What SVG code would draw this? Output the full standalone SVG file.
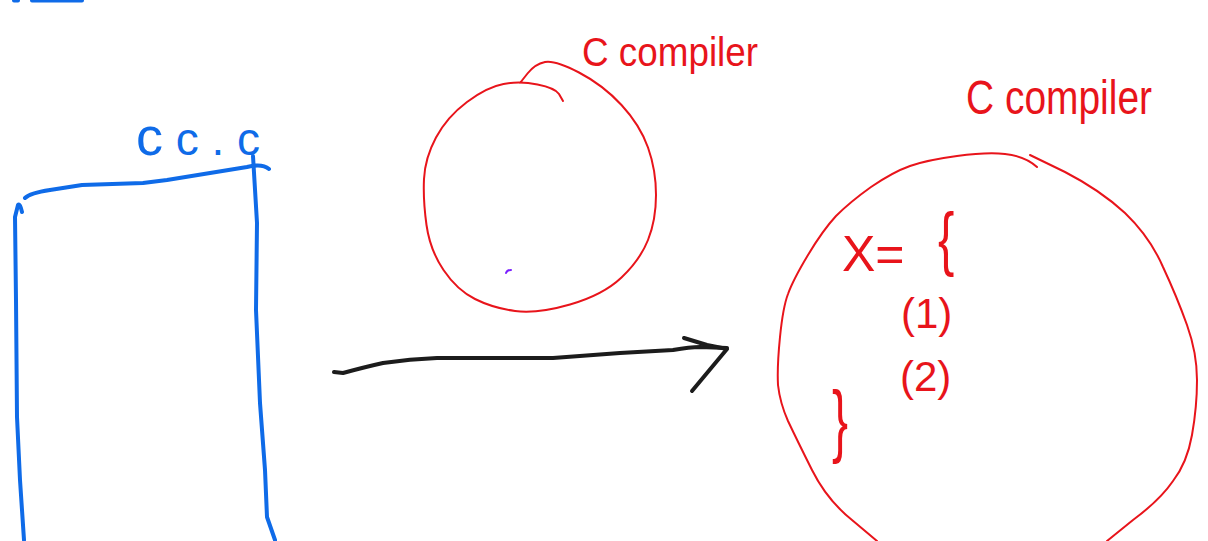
<svg xmlns="http://www.w3.org/2000/svg" width="1208" height="541" viewBox="0 0 1208 541">
<style>
.blue{fill:none;stroke:#0f6be8;stroke-width:4;stroke-linecap:round;stroke-linejoin:round}
.red{fill:none;stroke:#e8141b;stroke-width:2;stroke-linecap:round;stroke-linejoin:round}
.ink{fill:none;stroke:#1c1c1c;stroke-width:4;stroke-linecap:round;stroke-linejoin:round}
.rt{fill:#e8141b;font-family:"Liberation Sans",Arial,sans-serif}
.bt{fill:#0f6be8;font-family:"Liberation Sans",Arial,sans-serif}
</style>
<rect width="1208" height="541" fill="#ffffff"/>
<g id="top-marks">
<path class="blue" d="M14 0.5 L18 0.5 M32 0.5 L82 0.5"/>
</g>
<g id="source-file">
<path class="blue" d="M25 198 Q30 193 50 190 L82 185 L143 183 L167 180 L247 167 Q262 163 269 169"/>
<path class="blue" d="M22 212 Q20 203 18 205 L15 217 L16 300 L17 417 L20 480 L24 540"/>
<path class="blue" d="M253 156 L257 223 L256 310 L260 403 L265 470 L267 517 L275 540"/>
<text class="bt" x="136" y="155" font-size="46" textLength="124" lengthAdjust="spacing"><tspan font-size="54">c</tspan>c.c</text>
</g>
<g id="compiler-empty">
<path class="red" d="M520 83 L527.5 73.5 Q535 64 545 62 Q555 60 579 72.5 Q603 85 621.5 105 Q640 125 648 147.5 Q656 170 656 195 Q656 220 648 240 Q640 260 621.5 277.5 Q603 295 570 304.5 Q537 314 515 311 Q493 308 475 299 Q457 290 443.5 270 Q430 250 426.5 225 Q423 200 424 179 Q425 158 436 137.5 Q447 117 467 102 Q487 87 503.5 84 Q520 81 537.5 84.5 Q555 88 559 94 L563 101"/>
<path d="M506 273 Q507 270 511 270" fill="none" stroke="#7a1fff" stroke-width="2" stroke-linecap="round"/>
<text class="rt" x="582" y="66" font-size="40" textLength="176" lengthAdjust="spacingAndGlyphs">C compiler</text>
</g>
<g id="compiler-full">
<path class="red" d="M1037 167 Q1025 156 1005 154 Q987 152 957 156 Q927 160 910 166 Q893 172 871 187 Q850 202 836 216 Q823 230 808 255 Q793 280 788 294 Q783 307 780 337 Q777 367 778 385 Q780 403 788 421 Q797 440 812 470 Q827 500 852 520 L877 541"/>
<path class="red" d="M1030 155 L1065 172 Q1100 190 1125 213 Q1150 237 1163 267 Q1177 297 1187 325 Q1197 353 1197 380 Q1197 407 1192 435 Q1187 463 1173 481 Q1160 500 1133 520 L1107 541"/>
<text class="rt" x="966" y="114" font-size="48" textLength="186" lengthAdjust="spacingAndGlyphs">C compiler</text>
<text class="rt" x="842" y="271" font-size="50">X=</text>
<text class="rt" transform="translate(938 262) scale(0.7 1)" font-size="70">{</text>
<text class="rt" x="901" y="328" font-size="42">(1)</text>
<text class="rt" x="900" y="391" font-size="42">(2)</text>
<text class="rt" transform="translate(832 447) scale(0.6 1)" font-size="80">}</text>
</g>
<g id="connectors">
<path class="ink" d="M334 372 L343 373 Q365 367 383 363 Q410 359 437 358 L553 358 L620 353 L673 350 Q690 347 700 347 L727 348"/>
<path class="ink" d="M684 338 L707 345 L727 349 L692 391"/>
</g>
</svg>
